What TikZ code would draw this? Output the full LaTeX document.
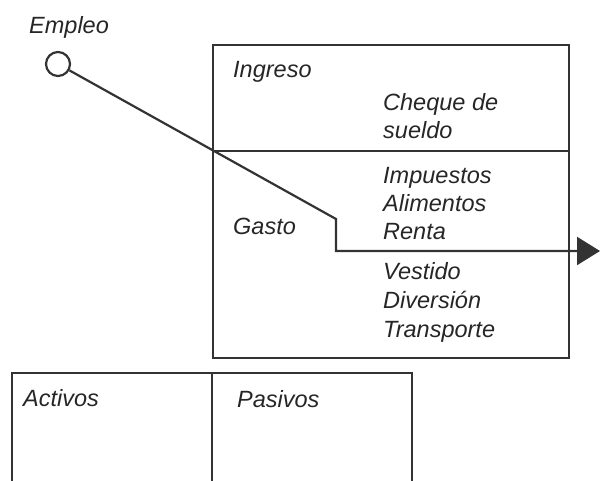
\documentclass[tikz,border=0pt]{standalone}
\usepackage{fontspec}
\setmainfont{Liberation Sans}
\usetikzlibrary{arrows.meta}
\begin{document}
\begin{tikzpicture}[x=1pt,y=-1pt,
  lbl/.style={anchor=base west,inner sep=0pt,font=\fontsize{23.5}{28}\selectfont\itshape,text=black!85},
  boxline/.style={line width=2.2pt,draw=black!80},
  conn/.style={line width=2.2pt,draw=black!80}]
\useasboundingbox (0,0) rectangle (600,480);
% top box
\coordinate (tbTL) at (213,45);
\coordinate (tbBR) at (569,358);
\coordinate (divL) at (213,151);
\coordinate (divR) at (569,151);
\draw[boxline] (tbTL) rectangle (tbBR);
\draw[boxline] (divL) -- (divR);
% bottom box (open at bottom)
\coordinate (bbL) at (12,373);
\coordinate (bbM) at (212,373);
\coordinate (bbR) at (412,373);
\draw[boxline] (12,482) -- (bbL) -- (bbR) -- (412,482);
\draw[boxline] (bbM) -- (212,482);
% labels
\node[lbl] (empleo) at (29,33) {Empleo};
\node[lbl] (ingreso) at (233,77) {Ingreso};
\node[lbl] (cheque) at (383,110) {Cheque de};
\node[lbl] (sueldo) at (383,138) {sueldo};
\node[lbl] (impuestos) at (383,183) {Impuestos};
\node[lbl] (alimentos) at (383,211) {Alimentos};
\node[lbl] (renta) at (383,239) {Renta};
\node[lbl] (gasto) at (233,234) {Gasto};
\node[lbl] (vestido) at (383,279) {Vestido};
\node[lbl] (diversion) at (383,308) {Diversión};
\node[lbl] (transporte) at (383,337) {Transporte};
\node[lbl] (activos) at (23,406) {Activos};
\node[lbl] (pasivos) at (237,407) {Pasivos};
% connector
\node[circle,draw=black!80,line width=2.2pt,minimum size=24pt,inner sep=0pt] (emp) at (58,64) {};
\coordinate (bend1) at (336,219);
\coordinate (bend2) at (336,251);
\coordinate (tip) at (600,251);
\draw[conn,-{Triangle[length=23pt,width=28pt]}] (emp) -- (bend1) -- (bend2) -- (tip);
\end{tikzpicture}
\end{document}
